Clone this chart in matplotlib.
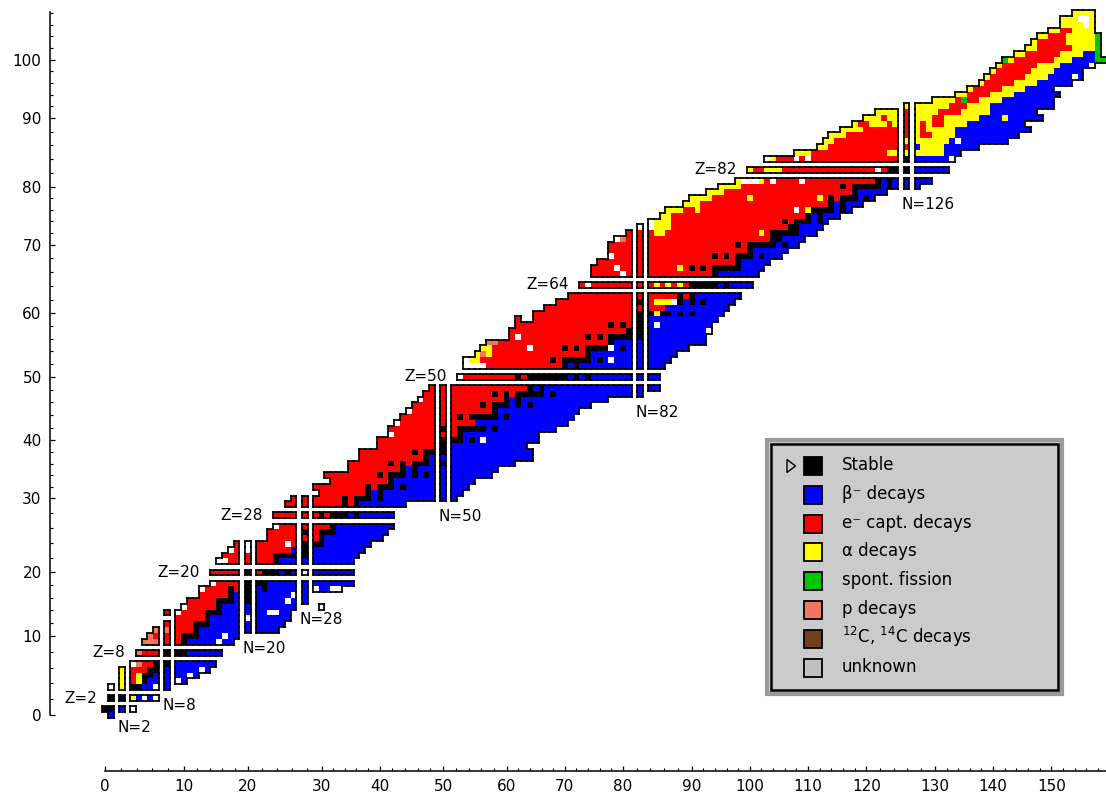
import matplotlib
matplotlib.use("Agg")
import matplotlib.pyplot as plt
from matplotlib.patches import Rectangle, Polygon
from matplotlib.collections import PatchCollection, LineCollection

# ---------------- data ----------------
MAGIC_N = [2, 8, 20, 28, 50, 82, 126]
MAGIC_Z = [2, 8, 20, 28, 50, 64, 82]

# rows: (Z, first N, run-length cell codes)
# K stable, B beta-, R e- capture, Y alpha, G spont. fission, P proton,
# C 12C/14C, W unknown, . no nuclide
LIGHT_ROWS = [
    (0, 1, "B"),
    (1, 0, "K2 B W"),
    (2, 1, "K2 Y B W B W"),
    (3, 1, "W Y K2 B2 W B"),
    (4, 2, "Y R Y K B3 W B"),
    (5, 2, "Y R Y K2 B4 W B"),
    (6, 2, "Y R3 K2 B5 W B"),
    (7, 3, "W P R2 K2 B7"),
    (8, 4, "P R3 K3 B6"),
    (9, 5, "P3 R2 K B5 W B2"),
    (10, 6, "P R3 K3 B4 W B2"),
    (11, 7, "P2 R3 K B12"),
    (12, 8, "R4 K3 B11"),
    (13, 9, "R5 K B5 W B6"),
    (14, 8, "R W R4 K3 B6 W2 B2"),
    (15, 10, "W R5 K B11 .2 W"),
    (16, 11, "R5 K3 B K B5 W B2"),
    (17, 13, "R5 K B K B6 W B"),
    (18, 13, "W R4 K R K B K B6 W B2 W2"),
    (19, 15, "W R4 K3 B13"),
    (20, 15, "R5 K R K3 B K B W B7"),
]
MID_ROWS = [
    (21, 16, "W2 R6 K B11"),
    (22, 17, "R7 K5 B8"),
    (23, 18, "W R W R6 B K B9"),
    (24, 19, "R W R5 W R K3 B8"),
    (25, 23, "R7 K B10"),
    (26, 23, "R5 K R K3 B9"),
    (27, 24, "W R7 K B10"),
    (28, 24, "R6 K R K3 B K B6"),
    (29, 26, "R8 K R K B8"),
    (30, 27, "R7 K R K3 B K B11"),
    (31, 30, "R8 K B K B12"),
    (32, 29, "R9 K R K3 B K B9"),
    (33, 32, "R10 K B12"),
    (34, 31, "R9 K R K3 B K B K B9"),
    (35, 35, "R9 K B K B12"),
    (36, 35, "R7 K R K R K3 B K B11"),
    (37, 37, "R11 K B16"),
    (38, 37, "R9 K R K3 B14"),
    (39, 40, "R10 K B13"),
    (40, 40, "R10 K3 B K B W B9"),
    (41, 42, "W R9 K B13"),
    (42, 42, "R8 K R K5 B K B10"),
    (43, 43, "W R11 B16"),
    (44, 44, "R8 K R K5 B K B11"),
    (45, 45, "W R12 K B14"),
    (46, 46, "R10 K R K3 B K B K B10"),
    (47, 47, "W R12 K B K B15"),
    (48, 48, "R10 K R K R K5 B K B14"),
    (49, 49, "R15 K B K B18"),
    (50, 52, "W R9 K R K7 B K B K B10"),
]
HEAVY_ROWS = [
    (51, 53, "W4 R13 K B K B13"),
    (52, 53, "W Y2 R12 K R K5 B K B W B8"),
    (53, 55, "Y P Y R16 K B13"),
    (54, 56, "Y2 R6 W R5 K R K R K4 W B K B9"),
    (55, 57, "P2 R19 K B14"),
    (56, 61, "R W R11 K R K R K5 B10"),
    (57, 61, "R20 K2 B10 W"),
    (58, 62, "R16 K R K R K B W B9"),
    (59, 62, "R .2 R17 K B12"),
    (60, 65, "R17 K2 Y K2 B K B K B5"),
    (61, 67, "R19 B11"),
    (62, 69, "R13 K R Y3 W K B K B K B5"),
    (63, 71, "R17 K R K B8"),
    (64, 73, "R W R9 Y R Y R Y R K5 B K B4"),
    (65, 75, "R5 W R13 K B7"),
    (66, 75, "R4 W R8 Y R K R K R K5 B4"),
    (67, 76, "R22 K B5"),
    (68, 78, "W R15 K R K R K3 B K B3"),
    (69, 78, "R22 K B6"),
    (70, 78, "R20 K R K5 B K B2"),
    (71, 79, "W P R23 K2 B4"),
    (72, 81, "R3 Y2 R16 Y R K5 B3"),
    (73, 82, "W2 Y3 R20 K2 B4"),
    (74, 83, "W Y3 R19 K R K3 B K B"),
    (75, 85, "Y2 R23 K B K B3"),
    (76, 86, "Y3 R2 Y R16 W R Y K4 B K B"),
    (77, 89, "Y3 R22 K B K B3"),
    (78, 90, "Y4 R6 Y R11 Y R K R K3 B K B"),
    (79, 93, "Y3 R22 K B5"),
    (80, 95, "Y4 R17 K R K5 B K B3"),
    (81, 98, "Y W3 Y R W R4 W R12 K B K B5"),
    (82, 100, "Y R2 Y3 R16 W R K3 B6"),
]
TRANS_ROWS = [
    (83, 103, "W Y R3 W R W R15 K B6 W"),
    (84, 108, "Y3 R13 Y8 B3"),
    (85, 112, "Y2 R13 B Y4 B6"),
    (86, 113, "Y2 R11 Y7 B W B8"),
    (87, 114, "Y3 R10 Y R2 Y4 B11"),
    (88, 116, "Y4 R7 Y R Y5 B13"),
    (89, 118, "Y R2 Y3 R Y R Y R Y R2 Y4 B10"),
    (90, 120, "Y3 R Y2 R Y3 R2 Y6 B4 Y B6"),
    (91, 122, "Y4 R Y4 R4 Y5 B8"),
    (92, 126, "Y7 R3 Y4 B11"),
    (93, 130, "Y4 R G R2 Y4 B9"),
    (94, 134, "Y2 R4 Y4 B8"),
    (95, 136, "Y R5 Y4 B5"),
    (96, 138, "Y R5 Y4 B6"),
    (97, 139, "Y R6 Y4 B4 W B"),
    (98, 140, "Y R6 Y4 B5"),
    (99, 141, "Y R6 Y4 B5 W"),
    (100, 142, "G Y R7 Y3 B4 G2"),
    (101, 144, "Y2 R6 Y4 B2 G"),
    (102, 146, "Y2 R6 Y4 G"),
    (103, 147, "Y R5 Y5 G"),
    (104, 148, "Y2 R3 Y5 G"),
    (105, 150, "Y2 R2 Y4"),
    (106, 152, "Y4 W Y"),
    (107, 152, "Y3 W2 Y"),
    (108, 154, "Y4"),
]

CELL_COLORS = {"K": "#000000", "B": "#0000ff", "R": "#ff0000", "Y": "#ffff00",
               "G": "#00c800", "P": "#f07860", "C": "#704020", "W": "#ffffff"}

LEGEND_LABELS = ["Stable", "\u03b2\u207b decays", "e\u207b capt. decays", "\u03b1 decays",
                 "spont. fission", "p decays", r"$^{12}$C, $^{14}$C decays", "unknown"]
LEGEND_COLORS = ["#000000", "#0000ff", "#ff0000", "#ffff00",
                 "#00c800", "#f07860", "#704020", "#c0c0c0"]

X_TICK_VALUES = list(range(0, 151, 10))
Y_TICK_VALUES = list(range(0, 101, 10))

# ---------------- layout ----------------
W_PX, H_PX, DPI = 1106, 796, 100
S = 5.82          # pixels per cell
X0, Y0 = 105.0, 715.0
GAP = 0.9         # white gap on each side of a magic line (cell units)


def npos(n):
    k = sum(1 for m in MAGIC_N if m < n)
    return n + GAP * (2 * k + (1 if n in MAGIC_N else 0))


def zpos(z):
    k = sum(1 for m in MAGIC_Z if m < z)
    return z + GAP * (2 * k + (1 if z in MAGIC_Z else 0))


def parse(n0, codes):
    out = []
    n = n0
    for tok in codes.split():
        c = tok[0]
        cnt = int(tok[1:]) if len(tok) > 1 else 1
        for _ in range(cnt):
            if c != ".":
                out.append((n, c))
            n += 1
    return out


cells = {}
for rows in (LIGHT_ROWS, MID_ROWS, HEAVY_ROWS, TRANS_ROWS):
    for z, n0, codes in rows:
        for n, c in parse(n0, codes):
            cells[(z, n)] = c

fig = plt.figure(figsize=(W_PX / DPI, H_PX / DPI), dpi=DPI)
ax = fig.add_axes([0, 0, 1, 1])
xmin, xmax = -X0 / S, (W_PX - X0) / S
ymin, ymax = (Y0 - H_PX) / S, Y0 / S
ax.set_xlim(xmin, xmax)
ax.set_ylim(ymin, ymax)

# cells
patches, colors = [], []
for (z, n), c in cells.items():
    cx, cy = npos(n), zpos(z)
    patches.append(Rectangle((cx - 0.5, cy - 0.5), 1, 1))
    colors.append(CELL_COLORS[c])
pc = PatchCollection(patches, facecolors=colors, edgecolors="none",
                     linewidths=0, antialiased=False, zorder=2)
ax.add_collection(pc)

# outlines of the contiguous blocks
segs = []
for (z, n) in cells:
    cx, cy = npos(n), zpos(z)
    l, r, b, t = cx - 0.5, cx + 0.5, cy - 0.5, cy + 0.5
    if (z, n - 1) not in cells or n in MAGIC_N or (n - 1) in MAGIC_N:
        segs.append([(l, b), (l, t)])
    if (z, n + 1) not in cells or n in MAGIC_N or (n + 1) in MAGIC_N:
        segs.append([(r, b), (r, t)])
    if (z - 1, n) not in cells or z in MAGIC_Z or (z - 1) in MAGIC_Z:
        segs.append([(l, b), (r, b)])
    if (z + 1, n) not in cells or z in MAGIC_Z or (z + 1) in MAGIC_Z:
        segs.append([(l, t), (r, t)])
ax.add_collection(LineCollection(segs, colors="black", linewidths=1.25,
                                 capstyle="projecting", zorder=3))

# magic labels
for zm in MAGIC_Z:
    ns = [n for (z, n) in cells if z == zm]
    ax.text(npos(min(ns)) - 0.5 - 1.8, zpos(zm), f"Z={zm}", ha="right",
            va="center", fontsize=11, zorder=4)
for nm in MAGIC_N:
    zs = [z for (z, n) in cells if n == nm]
    ax.text(npos(nm) - 0.8, zpos(min(zs)) - 0.5 - 1.35, f"N={nm}", ha="left",
            va="top", fontsize=11, zorder=4)

# axes
for sp in ("top", "right"):
    ax.spines[sp].set_visible(False)
ax.spines["bottom"].set_position(("data", (Y0 - 770.7) / S))
ax.spines["bottom"].set_bounds(0, xmax)
ax.spines["left"].set_position(("data", (50 - X0) / S))
ax.spines["left"].set_bounds(0, (Y0 - 12) / S)
for sp in ("bottom", "left"):
    ax.spines[sp].set_linewidth(1.1)

xmaj = [npos(v) for v in X_TICK_VALUES]
ymaj = [zpos(v) for v in Y_TICK_VALUES]


def minors(maj, top):
    out = []
    for a, b in zip(maj[:-1], maj[1:]):
        out += [a + (b - a) * i / 5 for i in range(1, 5)]
    v = maj[-1] + 2
    while v < top:
        out.append(v)
        v += 2
    return out


ax.set_xticks(xmaj, [str(v) for v in X_TICK_VALUES])
ax.set_xticks(minors(xmaj, xmax - 0.2), minor=True)
ax.set_yticks(ymaj, [str(v) for v in Y_TICK_VALUES])
ax.set_yticks(minors(ymaj, (Y0 - 12) / S), minor=True)
ax.tick_params(axis="x", which="major", direction="in", length=3.6, width=0.9,
               pad=6.0, labelsize=11)
ax.tick_params(axis="y", which="major", direction="in", length=3.6, width=0.9,
               pad=6, labelsize=11)
ax.tick_params(which="minor", direction="in", length=2.0, width=0.8)

# ---------------- legend ----------------
def fp(x, y):
    return (x / W_PX, 1 - y / H_PX)


def frect(x0, y0, x1, y1, **kw):
    return Rectangle(fp(x0, y1), (x1 - x0) / W_PX, (y1 - y0) / H_PX,
                     transform=fig.transFigure, **kw)


fig.add_artist(frect(767, 440, 1062, 694, facecolor="#cbcbcb",
                     edgecolor="#9a9a9a", linewidth=3.0, zorder=5))
fig.add_artist(frect(771, 444, 1058, 690, facecolor="none",
                     edgecolor="black", linewidth=1.8, zorder=6))
row_y = [466.0 + 28.8 * i for i in range(len(LEGEND_LABELS))]
for yy, lab, col in zip(row_y, LEGEND_LABELS, LEGEND_COLORS):
    fig.add_artist(frect(803.5, yy - 9, 821.5, yy + 9, facecolor=col,
                         edgecolor="black", linewidth=1.3, zorder=7))
    tx, ty = fp(841.5, yy + 4)
    fig.text(tx, ty, lab, fontsize=12, ha="left", va="baseline", zorder=8)
tri = Polygon([fp(787, row_y[0] - 6.5), fp(787, row_y[0] + 6.5),
               fp(795.5, row_y[0])], closed=True, transform=fig.transFigure,
              facecolor="none", edgecolor="black", linewidth=1.0, zorder=8)
fig.add_artist(tri)

fig.savefig("out.png", dpi=DPI)
